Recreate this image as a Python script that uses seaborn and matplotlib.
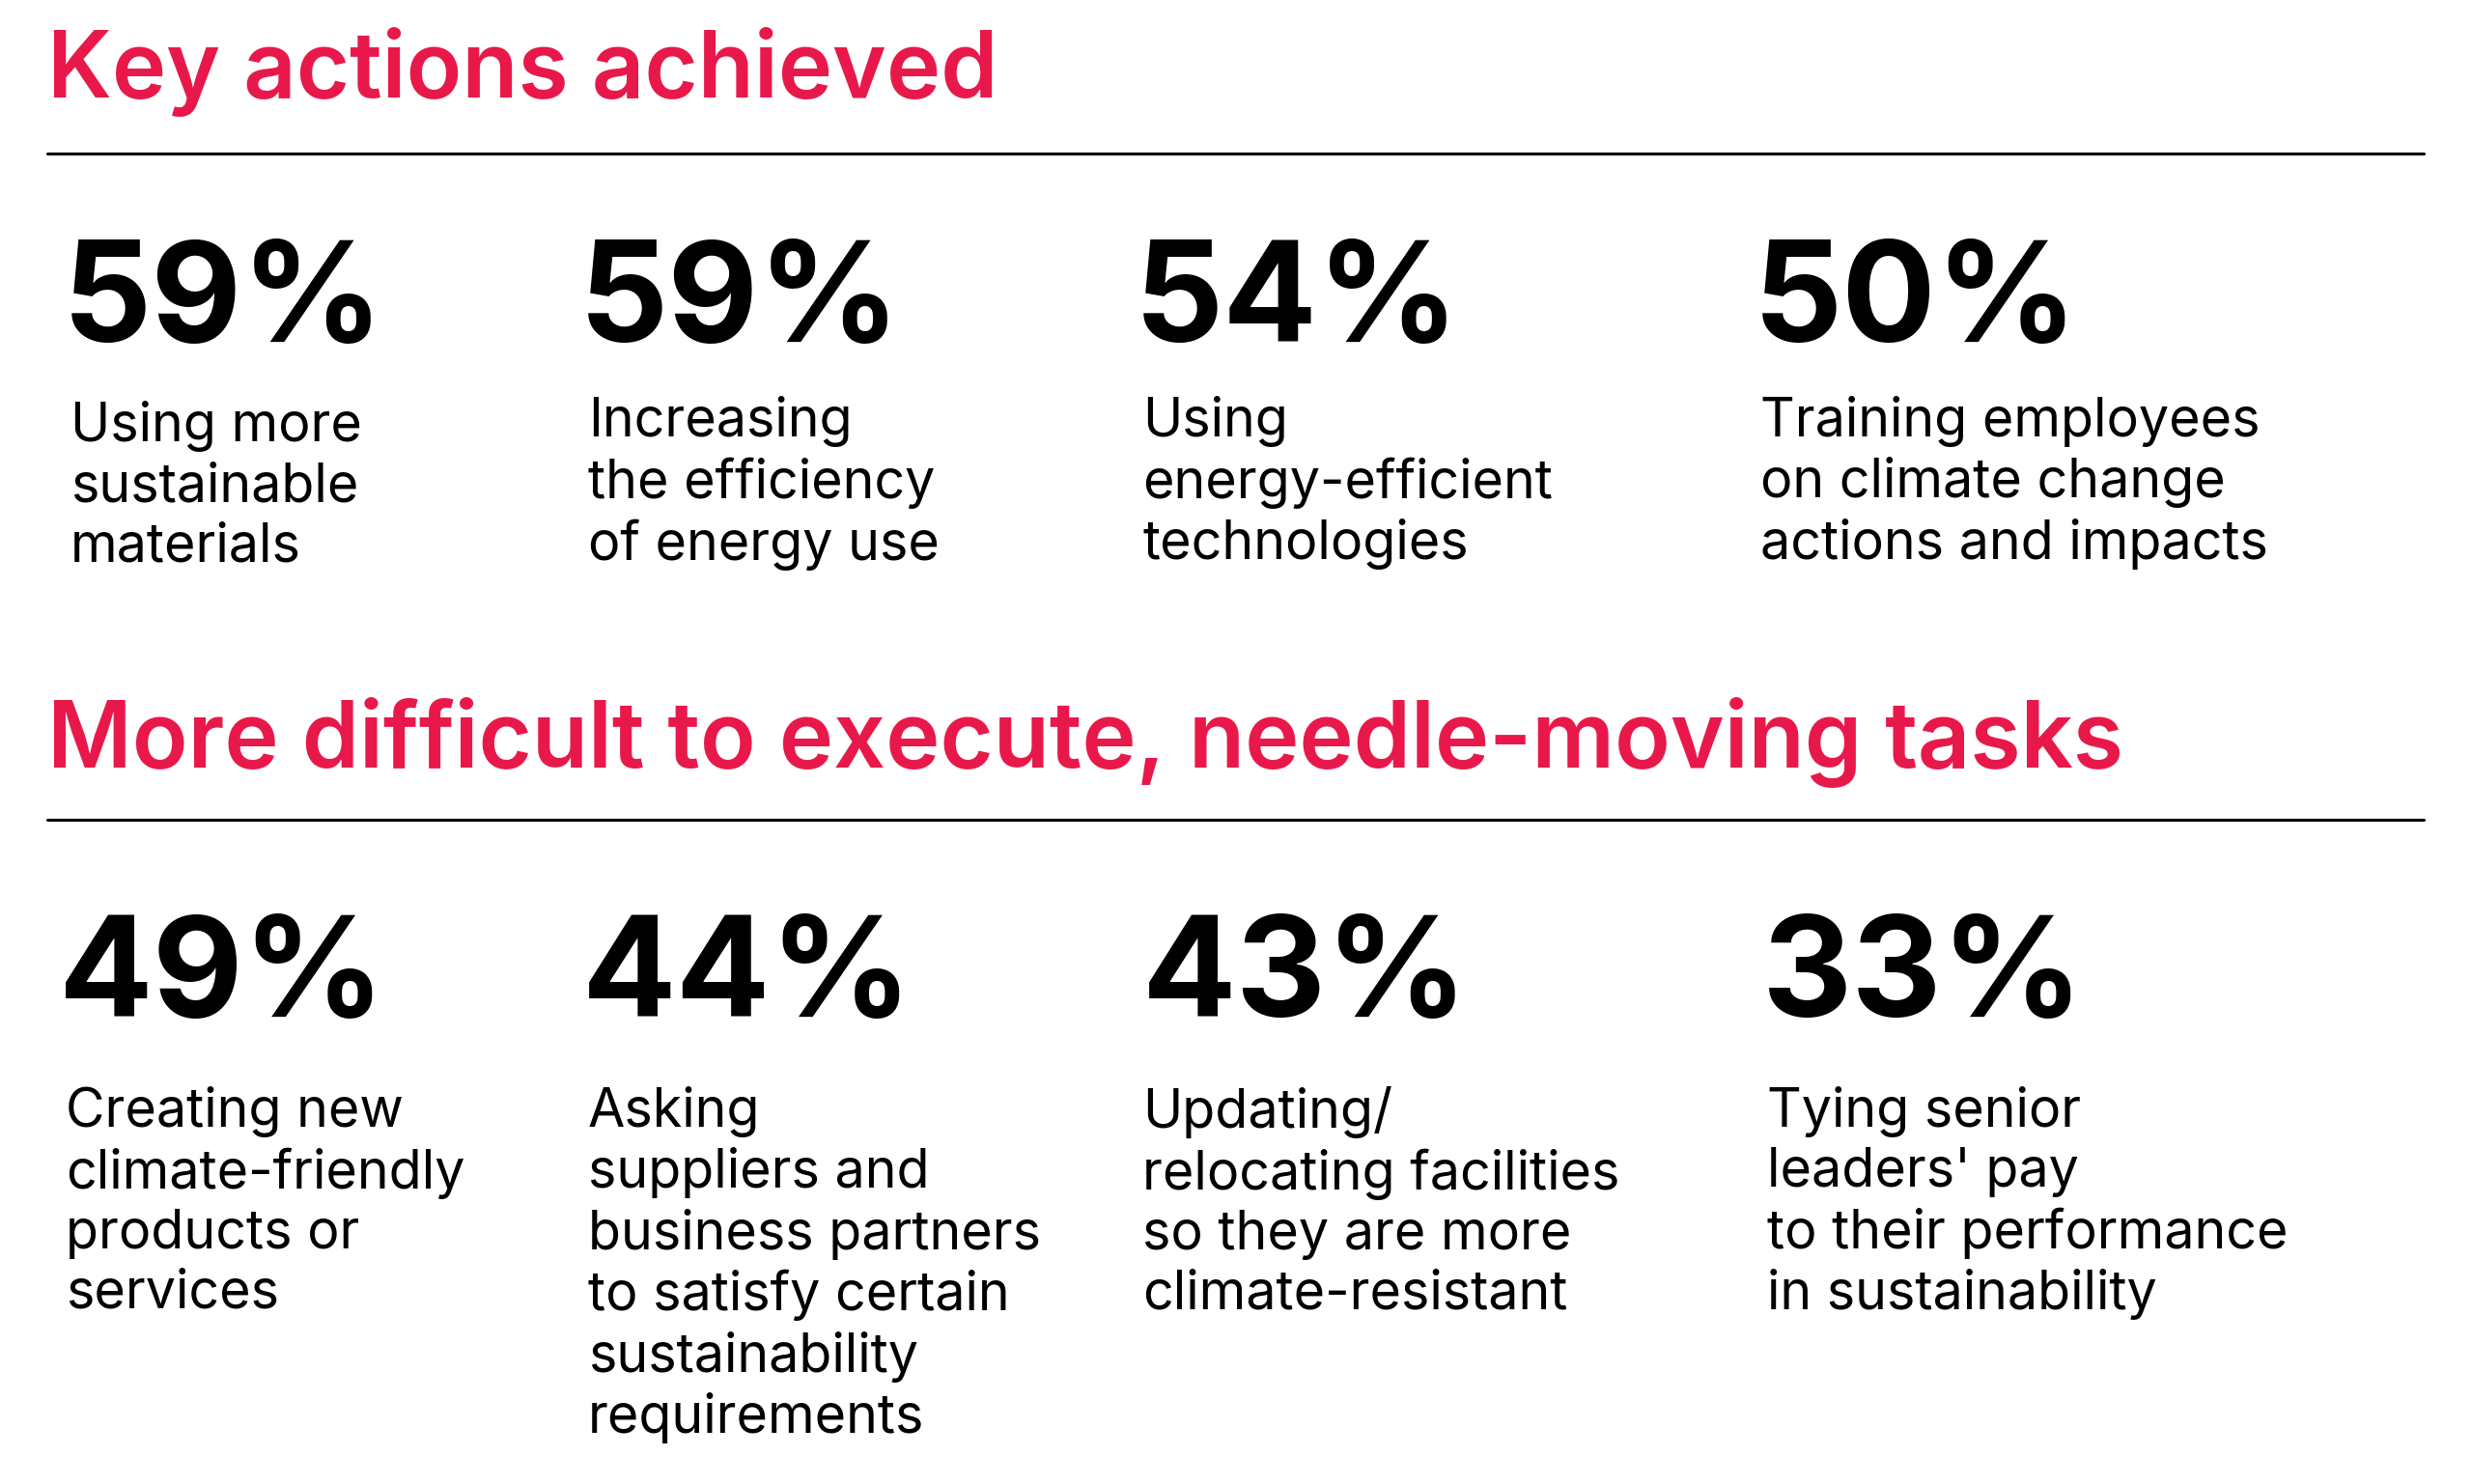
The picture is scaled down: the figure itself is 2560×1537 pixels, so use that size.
import seaborn as sns
import matplotlib.pyplot as plt

# section headers and the stats under each
titles = ["Key actions achieved", "More difficult to execute, needle-moving tasks"]

top_values = [59, 59, 54, 50]
top_labels = [
    "Using more\nsustainable\nmaterials",
    "Increasing\nthe efficiency\nof energy use",
    "Using\nenergy-efficient\ntechnologies",
    "Training employees\non climate change\nactions and impacts",
]

bottom_values = [49, 44, 43, 33]
bottom_labels = [
    "Creating new\nclimate-friendly\nproducts or\nservices",
    "Asking\nsuppliers and\nbusiness partners\nto satisfy certain\nsustainability\nrequirements",
    "Updating/\nrelocating facilities\nso they are more\nclimate-resistant",
    "Tying senior\nleaders' pay\nto their performance\nin sustainability",
]

sns.set_theme(style="white")
plt.rcParams["font.family"] = ["Inter", "DejaVu Sans"]

RED = "#E8194A"
W, H = 2560, 1537

fig = plt.figure(figsize=(25.6, 15.37), dpi=100)
ax = fig.add_axes([0, 0, 1, 1])
ax.set_xlim(0, W)
ax.set_ylim(H, 0)
ax.axis("off")


def section(title, title_y, rule_y, vals, labels, num_x, num_y, lab_x, lab_y):
    ax.text(49, title_y, title, color=RED, fontsize=68.5, fontweight="semibold",
            va="baseline", ha="left")
    ax.plot([49, 2510], [rule_y, rule_y], color="black", lw=2.2)
    for nx, lx, ly, v, lab in zip(num_x, lab_x, lab_y, vals, labels):
        ax.text(nx - 4, num_y, f"{v}%", color="black", fontsize=104,
                fontweight="bold", va="baseline", ha="left")
        ax.text(lx - 2, ly, lab, color="black", fontsize=40, va="top",
                ha="left", linespacing=1.245)


section(titles[0], 101, 159, top_values, top_labels,
        [69, 604, 1179, 1820], 354,
        [75, 611, 1185, 1825], [415, 410, 410, 410])
section(titles[1], 795, 849, bottom_values, bottom_labels,
        [65, 607, 1187, 1829], 1053,
        [70, 611, 1185, 1832], [1125] * 4)

fig.savefig("out.png", dpi=100, facecolor="white")
